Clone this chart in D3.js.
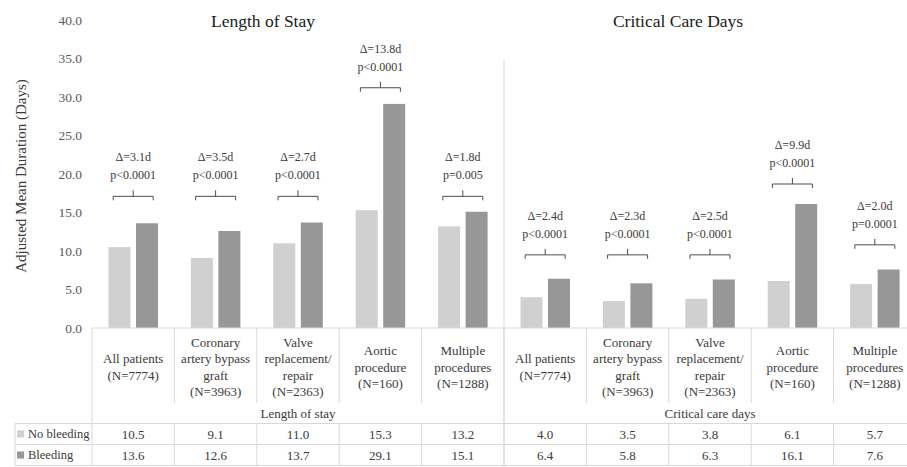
<!DOCTYPE html>
<html>
<head>
<meta charset="utf-8">
<script src="https://cdn.jsdelivr.net/npm/d3@7"></script>
<style>
	body { margin:0; background:#fff; }
</style>
</head>
<body>
<svg class="chart"></svg>
<script>
// data
var procedures = [
	["All patients", "(N=7774)"],
	["Coronary", "artery bypass", "graft", "(N=3963)"],
	["Valve", "replacement/", "repair", "(N=2363)"],
	["Aortic", "procedure", "(N=160)"],
	["Multiple", "procedures", "(N=1288)"]
];
var outcomes = ["Length of stay", "Critical care days"];
var panelTitles = ["Length of Stay", "Critical Care Days"];
var seriesNames = ["No bleeding", "Bleeding"];

var noBleedingLOS = [10.5, 9.1, 11.0, 15.3, 13.2];
var bleedingLOS = [13.6, 12.6, 13.7, 29.1, 15.1];
var noBleedingCC = [4.0, 3.5, 3.8, 6.1, 5.7];
var bleedingCC = [6.4, 5.8, 6.3, 16.1, 7.6];

var deltaLOS = ["Δ=3.1d", "Δ=3.5d", "Δ=2.7d", "Δ=13.8d", "Δ=1.8d"];
var pLOS = ["p<0.0001", "p<0.0001", "p<0.0001", "p<0.0001", "p=0.005"];
var deltaCC = ["Δ=2.4d", "Δ=2.3d", "Δ=2.5d", "Δ=9.9d", "Δ=2.0d"];
var pCC = ["p<0.0001", "p<0.0001", "p<0.0001", "p<0.0001", "p=0.0001"];
// level (days) where each significance bracket sits
var bracketLOS = [17.1, 17.1, 17.1, 31.2, 17.1];
var bracketCC = [9.5, 9.5, 9.5, 18.7, 10.8];

var yTicks = [0, 5, 10, 15, 20, 25, 30, 35, 40];

var width = 907, height = 467;
var serif = '"Liberation Serif", "Times New Roman", serif';
var lightGrey = "#d0d0d0", darkGrey = "#979797", lineCol = "#d9d9d9", txt = "#3a3a3a";

var rows = [];
outcomes.forEach(function(o, gi){
	procedures.forEach(function(p, i){
		rows.push({
			group: gi,
			idx: gi * 5 + i,
			label: p,
			vals: gi == 0 ? [noBleedingLOS[i], bleedingLOS[i]] : [noBleedingCC[i], bleedingCC[i]],
			delta: gi == 0 ? deltaLOS[i] : deltaCC[i],
			p: gi == 0 ? pLOS[i] : pCC[i],
			bracket: gi == 0 ? bracketLOS[i] : bracketCC[i]
		});
	});
});

var chart = d3.select('.chart')
	.attr("width", width)
	.attr("height", height)
	.attr("font-family", serif);

var x0 = d3.scaleBand()
	.domain(rows.map(function(d){ return d.idx; }))
	.range([92, 916]);
var x1 = d3.scaleBand()
	.domain([0, 1])
	.range([16.5, 66])
	.paddingInner(0.2);
var y = d3.scaleLinear()
	.domain([0, 40])
	.range([328, 20]);

// y axis labels only (no axis line, no gridlines)
var yAxis = d3.axisLeft(y).tickValues(yTicks).tickFormat(d3.format(".1f")).tickSize(0).tickPadding(0);
var yg = chart.append('g')
	.attr('transform', 'translate(82,0)')
	.call(yAxis)
	.attr('font-family', serif)
	.attr('font-size', 13);
yg.select('.domain').remove();
yg.selectAll('text')
	.attr("font-family", serif)
	.attr("font-size", "13.5px")
	.attr("fill", "#595959");

chart.append('text')
	.attr('transform', 'translate(21,176) rotate(-90)')
	.attr('text-anchor', 'middle')
	.attr('dominant-baseline', 'central')
	.attr('font-family', serif)
	.attr('font-size', '15px')
	.attr('fill', txt)
	.text("Adjusted Mean Duration (Days)");

// panel titles
chart.selectAll('.ptitle')
	.data(panelTitles)
	.enter()
	.append('text')
	.attr('class', 'ptitle')
	.attr('x', function(d, i){ return i == 0 ? 263 : 678; })
	.attr('y', 21)
	.attr('text-anchor', 'middle')
	.attr('dominant-baseline', 'central')
	.attr('font-family', serif)
	.attr('font-size', '17.5px')
	.attr('fill', '#1a1a1a')
	.text(function(d){ return d; });

// separator between the two panels
chart.append('line')
	.attr('x1', x0(5)).attr('x2', x0(5))
	.attr('y1', 60).attr('y2', 465.5)
	.attr('stroke', lineCol);

// bars
var cat = chart.append('g').selectAll('g')
	.data(rows)
	.enter()
	.append('g')
	.attr('transform', function(d){ return 'translate(' + x0(d.idx) + ',0)'; });

cat.selectAll('rect')
	.data(function(d){ return d.vals; })
	.enter()
	.append('rect')
	.attr('x', function(d, i){ return x1(i); })
	.attr('width', x1.bandwidth())
	.attr('y', function(d){ return y(d); })
	.attr('height', function(d){ return y(0) - y(d); })
	.attr('fill', function(d, i){ return i == 0 ? lightGrey : darkGrey; });

// brackets + annotation
var cx = x0.bandwidth() / 2;
cat.append('path')
	.attr('d', function(d){
		var by = y(d.bracket);
		return 'M' + (cx - 20) + ',' + (by + 4) + 'V' + by + 'H' + (cx + 20) + 'V' + (by + 4) +
			'M' + cx + ',' + by + 'V' + (by - 6);
	})
	.attr('fill', 'none')
	.attr('stroke', '#4d4d4d')
	.attr('stroke-width', 1);

cat.append('text')
	.attr('x', cx)
	.attr('y', function(d){ return y(d.bracket) - 21; })
	.attr('text-anchor', 'middle')
	.attr('dominant-baseline', 'central')
	.attr('font-family', serif)
	.attr('font-size', '12px')
	.attr('fill', txt)
	.text(function(d){ return d.p; });
cat.append('text')
	.attr('x', cx)
	.attr('y', function(d){ return y(d.bracket) - 39; })
	.attr('text-anchor', 'middle')
	.attr('dominant-baseline', 'central')
	.attr('font-family', serif)
	.attr('font-size', '12px')
	.attr('fill', txt)
	.text(function(d){ return d.delta; });

// category labels
cat.append('text')
	.attr('text-anchor', 'middle')
	.attr('font-family', serif)
	.attr('font-size', '13px')
	.attr('fill', txt)
	.each(function(d){
		var n = d.label.length;
		d3.select(this).selectAll('tspan')
			.data(d.label)
			.enter()
			.append('tspan')
			.attr('x', cx)
			.attr('y', function(t, j){ return 367 + (j - (n - 1) / 2) * 16.5; })
			.attr('dominant-baseline', 'central')
			.text(function(t){ return t; });
	});

// data table
var rowY = [423.5, 444.5, 465.5];
var tbl = chart.append('g').attr('stroke', lineCol).attr('stroke-width', 1);
tbl.append('line').attr('x1', 92).attr('x2', 916).attr('y1', y(0)).attr('y2', y(0));
rowY.forEach(function(ry){
	tbl.append('line').attr('x1', 15).attr('x2', 916).attr('y1', ry).attr('y2', ry);
});
tbl.append('line').attr('x1', 15).attr('x2', 15).attr('y1', rowY[0]).attr('y2', rowY[2]);
d3.range(11).forEach(function(k){
	var xx = k < 10 ? x0(k) : x0(9) + x0.bandwidth();
	if (k % 5 == 0) {
		tbl.append('line').attr('x1', xx).attr('x2', xx).attr('y1', y(0)).attr('y2', rowY[2]);
	} else {
		tbl.append('line').attr('x1', xx).attr('x2', xx).attr('y1', y(0)).attr('y2', 403);
		tbl.append('line').attr('x1', xx).attr('x2', xx).attr('y1', rowY[0]).attr('y2', rowY[2]);
	}
});

chart.selectAll('.glabel')
	.data(outcomes)
	.enter()
	.append('text')
	.attr('x', function(d, i){ return (x0(i * 5) + x0(i * 5 + 4) + x0.bandwidth()) / 2; })
	.attr('y', 413)
	.attr('text-anchor', 'middle')
	.attr('dominant-baseline', 'central')
	.attr('font-family', serif)
	.attr('font-size', '13px')
	.attr('fill', txt)
	.text(function(d){ return d; });

seriesNames.forEach(function(s, si){
	var cy = (rowY[si] + rowY[si + 1]) / 2;
	chart.append('rect')
		.attr('x', 17).attr('y', cy - 3.5)
		.attr('width', 7).attr('height', 7)
		.attr('fill', si == 0 ? lightGrey : darkGrey);
	chart.append('text')
		.attr('x', 28).attr('y', cy)
		.attr('dominant-baseline', 'central')
		.attr('font-family', serif)
		.attr('font-size', '12.5px')
		.attr('fill', txt)
		.text(s);
	chart.append('g').selectAll('text')
		.data(rows)
		.enter()
		.append('text')
		.attr('x', function(d){ return x0(d.idx) + cx; })
		.attr('y', cy)
		.attr('text-anchor', 'middle')
		.attr('dominant-baseline', 'central')
		.attr('font-family', serif)
		.attr('font-size', '13px')
		.attr('fill', txt)
		.text(function(d){ return d.vals[si].toFixed(1); });
});
</script>
</body>
</html>
